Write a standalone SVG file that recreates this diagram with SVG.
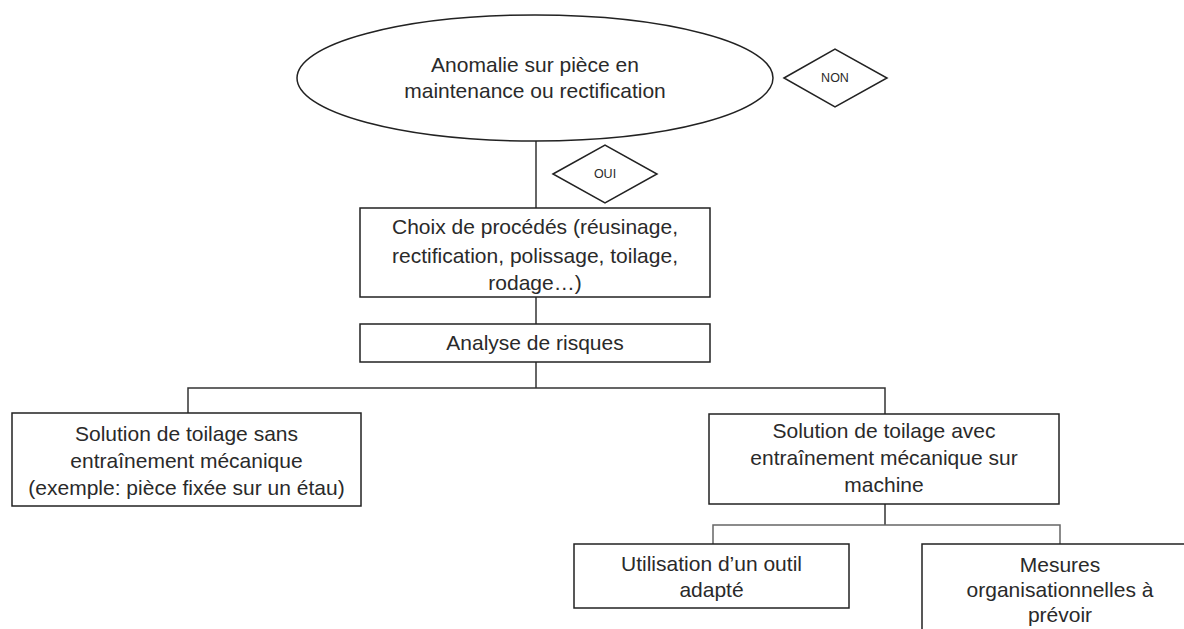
<svg xmlns="http://www.w3.org/2000/svg" width="1184" height="629" viewBox="0 0 1184 629">
<style>
.box{fill:#fff;stroke:#222;stroke-width:1.5}
.t{font-family:"Liberation Sans",Arial,sans-serif;font-size:21px;fill:#2a2a2a;text-anchor:middle}
.s{font-family:"Liberation Sans",Arial,sans-serif;font-size:12.5px;fill:#2a2a2a;text-anchor:middle}
.c{fill:none;stroke:#333;stroke-width:1.5}
.c2{fill:none;stroke:#666;stroke-width:1.5}
</style>
<rect width="1184" height="629" fill="#fff"/>
<g id="connectors">
<path class="c" d="M536 141V208"/>
<path class="c" d="M536 297V324"/>
<path class="c" d="M536 362V388"/>
<path class="c" d="M188 413V388H885V414"/>
<path class="c" d="M885 504V525"/>
<path class="c2" d="M713 544V525H1060V544"/>
</g>
<g id="n-anomalie">
<ellipse class="box" cx="535" cy="78" rx="238" ry="63"/>
<text class="t" x="535" y="72">Anomalie sur pièce en</text>
<text class="t" x="535" y="98">maintenance ou rectification</text>
</g>
<g id="n-non">
<polygon class="box" points="784,78 835,49 887,78 835,107"/>
<text class="s" x="835" y="82">NON</text>
</g>
<g id="n-oui">
<polygon class="box" points="553,174 605,145 657,174 605,203"/>
<text class="s" x="605" y="178">OUI</text>
</g>
<g id="n-choix">
<rect class="box" x="360" y="208" width="350" height="89"/>
<text class="t" x="535" y="234">Choix de procédés (réusinage,</text>
<text class="t" x="535" y="263">rectification, polissage, toilage,</text>
<text class="t" x="535" y="290">rodage…)</text>
</g>
<g id="n-analyse">
<rect class="box" x="360" y="324" width="350" height="38"/>
<text class="t" x="535" y="350">Analyse de risques</text>
</g>
<g id="n-sans">
<rect class="box" x="12" y="413" width="349" height="93"/>
<text class="t" x="186.5" y="441">Solution de toilage sans</text>
<text class="t" x="186.5" y="468">entraînement mécanique</text>
<text class="t" x="186.5" y="495">(exemple: pièce fixée sur un étau)</text>
</g>
<g id="n-avec">
<rect class="box" x="709" y="414" width="350" height="90"/>
<text class="t" x="884" y="438">Solution de toilage avec</text>
<text class="t" x="884" y="465">entraînement mécanique sur</text>
<text class="t" x="884" y="492">machine</text>
</g>
<g id="n-outil">
<rect class="box" x="574" y="544" width="275" height="64"/>
<text class="t" x="711.5" y="571">Utilisation d’un outil</text>
<text class="t" x="711.5" y="597">adapté</text>
</g>
<g id="n-mesures">
<rect class="box" x="922" y="544" width="276" height="100"/>
<text class="t" x="1060" y="572">Mesures</text>
<text class="t" x="1060" y="597">organisationnelles à</text>
<text class="t" x="1060" y="622">prévoir</text>
</g>
</svg>
